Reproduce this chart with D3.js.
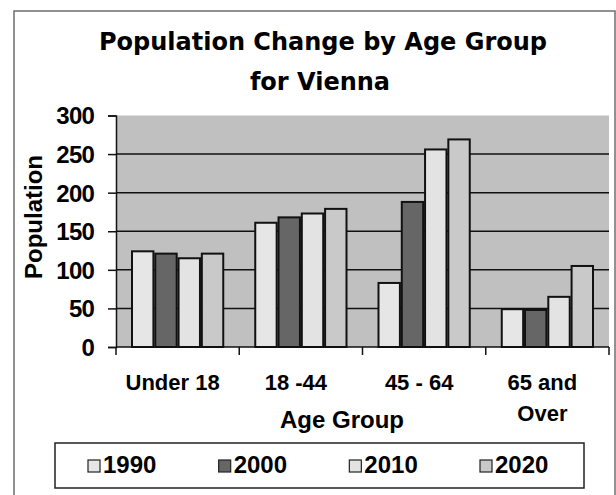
<!DOCTYPE html>
<html lang="en">
<head>
    <script src='https://d3js.org/d3.v7.min.js'></script>
    <style>
        body { margin: 0; background: #fff; }
        text { font-family: "Liberation Sans", Arial, sans-serif; font-weight: bold; fill: #000; }
    </style>
</head>
<body>
<script>
var groups = ["Under 18", "18 -44", "45 - 64", "65 and Over"];
var years = ["1990", "2000", "2010", "2020"];
var v1990 = [124, 161, 83, 49];
var v2000 = [121, 168, 188, 48];
var v2010 = [115, 173, 256, 65];
var v2020 = [121, 179, 269, 105];
var yTicks = [0, 50, 100, 150, 200, 250, 300];
var colors = ["#e6e6e6", "#666666", "#e3e3e3", "#c9c9c9"];

var series = [v1990, v2000, v2010, v2020];

var width = 616, height = 495;
var margin = {left: 116, right: 7, top: 115.5, bottom: 148};

var svg = d3.select("body").append("svg")
    .attr("width", width)
    .attr("height", height);

// outer frame
svg.append("rect")
    .attr("x", 14).attr("y", 11)
    .attr("width", 601).attr("height", 500)
    .attr("fill", "none")
    .attr("stroke", "#6e6e6e")
    .attr("stroke-width", 1.5);

var x0 = d3.scaleBand()
    .domain(groups)
    .range([margin.left, width - margin.right]);

var x1 = d3.scaleBand()
    .domain(years)
    .range([16, x0.bandwidth() - 16])
    .paddingInner(0.08);

var y = d3.scaleLinear()
    .domain([0, 300])
    .range([height - margin.bottom, margin.top]);

// plot background
svg.append("rect")
    .attr("x", margin.left)
    .attr("y", y(300))
    .attr("width", x0.range()[1] - margin.left)
    .attr("height", y(0) - y(300))
    .attr("fill", "#c0c0c0");

// gridlines
svg.append("g")
    .selectAll("line")
    .data(yTicks.filter(function(d) { return d > 0 && d < 300; }))
    .enter().append("line")
    .attr("x1", margin.left)
    .attr("x2", x0.range()[1])
    .attr("y1", function(d) { return y(d); })
    .attr("y2", function(d) { return y(d); })
    .attr("stroke", "#111")
    .attr("stroke-width", 1.5);

// bars
var g = svg.append("g")
    .selectAll("g")
    .data(groups)
    .enter().append("g")
    .attr("transform", function(d) { return "translate(" + x0(d) + ",0)"; });

g.selectAll("rect")
    .data(function(d, i) {
        return years.map(function(yr, j) { return {year: yr, value: series[j][i], idx: j}; });
    })
    .enter().append("rect")
    .attr("x", function(d) { return x1(d.year); })
    .attr("y", function(d) { return y(d.value); })
    .attr("width", x1.bandwidth())
    .attr("height", function(d) { return y(0) - y(d.value); })
    .attr("fill", function(d) { return colors[d.idx]; })
    .attr("stroke", "#111")
    .attr("stroke-width", 2);

// y axis
var yAxis = svg.append("g")
    .attr("transform", "translate(" + margin.left + ",0)")
    .call(d3.axisLeft(y).tickValues(yTicks).tickSize(8).tickPadding(14));
yAxis.select(".domain").attr("stroke", "#111").attr("stroke-width", 1.5);
yAxis.selectAll(".tick line").attr("stroke", "#111").attr("stroke-width", 1.5);
yAxis.selectAll("text")
    .style("font-size", "24px")
    .style("font-family", "'Liberation Sans', Arial, sans-serif")
    .style("font-weight", "bold")
    .attr("letter-spacing", "-0.8")
    .attr("dy", "0.35em");

// x axis
var xAxis = svg.append("g")
    .attr("transform", "translate(0," + y(0) + ")");
xAxis.append("line")
    .attr("x1", margin.left).attr("x2", x0.range()[1])
    .attr("stroke", "#111").attr("stroke-width", 1.5);
xAxis.selectAll(".tk")
    .data(groups.map(function(d) { return x0(d); }).concat([x0.range()[1]]))
    .enter().append("line")
    .attr("x1", function(d) { return d; })
    .attr("x2", function(d) { return d; })
    .attr("y1", 0).attr("y2", 8)
    .attr("stroke", "#111").attr("stroke-width", 1.5);

var labels = svg.append("g").selectAll("text")
    .data(groups)
    .enter().append("text")
    .attr("text-anchor", "middle")
    .attr("x", function(d) { return x0(d) + x0.bandwidth() / 2 - 5; })
    .attr("y", 390)
    .style("font-size", "22px");
labels.each(function(d) {
    var t = d3.select(this);
    if (d === "65 and Over") {
        t.append("tspan").attr("x", t.attr("x")).text("65 and");
        t.append("tspan").attr("x", t.attr("x")).attr("dy", 31).text("Over");
    } else {
        t.text(d);
    }
});

// axis titles
svg.append("text")
    .attr("x", 342).attr("y", 428)
    .attr("text-anchor", "middle")
    .style("font-size", "24px")
    .text("Age Group");

svg.append("text")
    .attr("transform", "translate(42,217) rotate(-90)")
    .attr("text-anchor", "middle")
    .style("font-size", "24px")
    .text("Population");

// title
var title = svg.append("text")
    .attr("text-anchor", "middle")
    .style("font-family", "'DejaVu Sans', Verdana, sans-serif")
    .style("font-size", "24px");
title.append("tspan").attr("x", 323).attr("y", 50).text("Population Change by Age Group");
title.append("tspan").attr("x", 320).attr("y", 90).text("for Vienna");

// legend
var legend = svg.append("g");
legend.append("rect")
    .attr("x", 55).attr("y", 443)
    .attr("width", 529).attr("height", 45)
    .attr("fill", "#fff")
    .attr("stroke", "#222")
    .attr("stroke-width", 1.5);

var lx = d3.scalePoint().domain(years).range([88, 480]);
var item = legend.selectAll(".item")
    .data(years)
    .enter().append("g")
    .attr("transform", function(d) { return "translate(" + lx(d) + ",460)"; });
item.append("rect")
    .attr("width", 12).attr("height", 12)
    .attr("fill", function(d, i) { return colors[i]; })
    .attr("stroke", "#222")
    .attr("stroke-width", 1.2);
item.append("text")
    .attr("x", 15).attr("y", 13)
    .style("font-size", "24px")
    .text(function(d) { return d; });
</script>
</body>
</html>
